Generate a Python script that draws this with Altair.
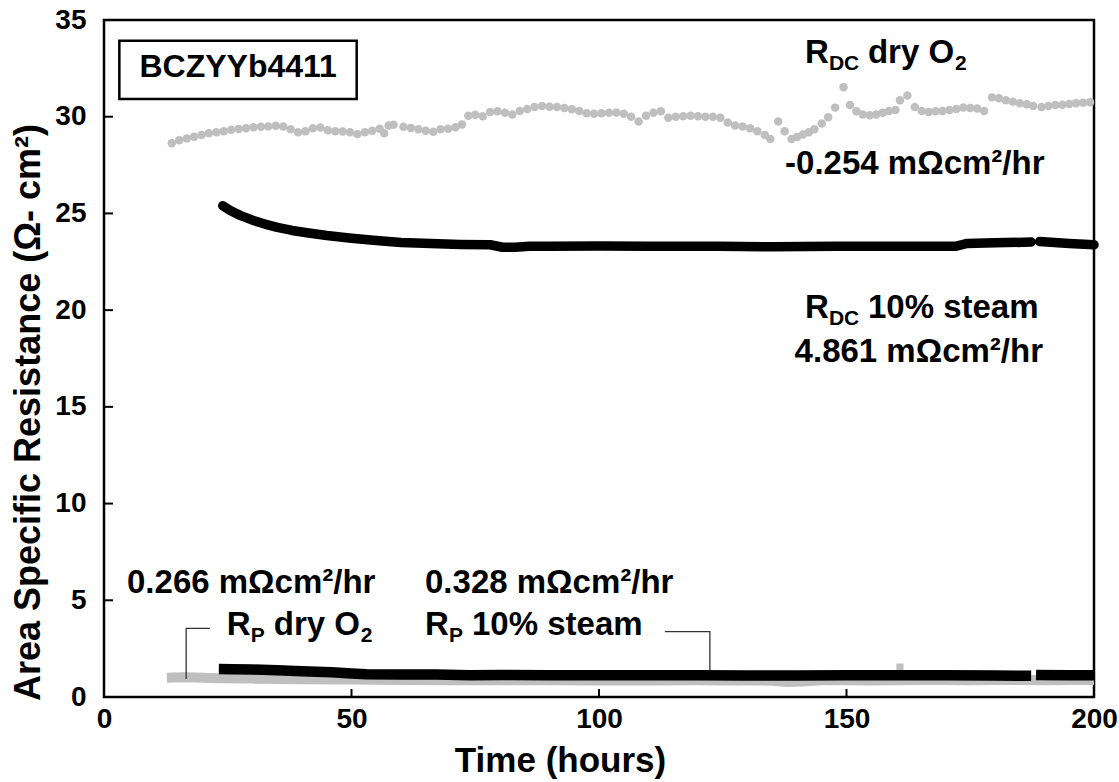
import altair as alt
import pandas as pd

FONT = "Liberation Sans"
GREY = "#bfbfbf"

# ---- R_DC in dry O2 (grey dots): time (h), ASR (ohm cm2)
dc_dry_t = [13.7, 15.2, 16.7, 18.2, 19.7, 21.2, 22.7, 24.2, 25.7, 27.2, 28.7, 30.2, 31.7, 33.2, 34.7,
            36.2, 37.7, 39.2, 40.7, 42.2, 43.7, 45.2, 46.7, 48.2, 49.7, 51.2, 52.7, 54.2, 55.7, 56.6,
            57.5, 58.5, 60.5, 62.0, 63.5, 65.0, 66.5, 68.0, 69.5, 71.0, 72.3, 73.6, 75.0, 76.5, 78.0,
            79.5, 81.0, 82.5, 84.0, 85.5, 87.0, 88.5, 90.0, 91.5, 93.0, 94.5, 96.0, 97.5, 99.0, 100.5,
            102.0, 103.5, 105.0, 106.5, 108.0, 109.5, 111.0, 112.5, 114.0, 115.5, 117.0, 118.5, 120.0,
            121.5, 123.0, 124.5, 126.0, 127.5, 129.0, 130.5, 132.0, 133.5, 134.6, 136.2, 137.5, 138.9,
            140.0, 141.2, 142.4, 143.5, 145.0, 146.3, 147.7, 149.4, 150.7, 152.0, 153.3, 154.7, 156.0,
            157.3, 158.6, 159.9, 160.8, 162.3, 163.8, 165.2, 166.6, 168.0, 169.4, 170.8, 172.2, 173.6,
            175.0, 176.4, 177.8, 179.4, 180.8, 182.2, 183.6, 185.0, 186.4, 187.7, 189.4, 190.8, 192.2,
            193.6, 195.0, 196.4, 197.8, 199.2]
dc_dry_v = [28.63, 28.78, 28.88, 28.97, 29.05, 29.15, 29.20, 29.25, 29.32, 29.36, 29.40, 29.45, 29.48,
            29.50, 29.53, 29.50, 29.35, 29.20, 29.25, 29.40, 29.44, 29.30, 29.25, 29.24, 29.20, 29.10,
            29.20, 29.28, 29.38, 29.15, 29.55, 29.58, 29.48, 29.42, 29.35, 29.28, 29.22, 29.35, 29.38,
            29.45, 29.60, 30.05, 30.10, 30.02, 30.25, 30.28, 30.20, 30.12, 30.30, 30.40, 30.50, 30.56,
            30.52, 30.50, 30.45, 30.38, 30.30, 30.18, 30.15, 30.18, 30.20, 30.22, 30.15, 30.00, 29.75,
            30.05, 30.20, 30.28, 29.95, 30.00, 30.02, 30.05, 30.02, 30.00, 30.00, 29.95, 29.70, 29.55,
            29.50, 29.40, 29.25, 29.05, 28.85, 29.75, 29.25, 28.85, 28.95, 29.08, 29.20, 29.35, 29.65,
            29.97, 30.47, 31.52, 30.60, 30.28, 30.12, 30.08, 30.12, 30.20, 30.30, 30.35, 30.85, 31.10,
            30.50, 30.30, 30.25, 30.28, 30.30, 30.35, 30.40, 30.48, 30.45, 30.42, 30.30, 31.00, 30.95,
            30.85, 30.78, 30.70, 30.65, 30.55, 30.50, 30.55, 30.60, 30.62, 30.66, 30.70, 30.72, 30.75]

# ---- R_DC in 10% steam (black)
dc_steam_t = [24.0, 25.5, 27.5, 30, 32.5, 35, 38, 41, 45, 50, 55, 60, 66, 72, 78, 80.5, 83, 86, 90, 100,
              110, 124, 135, 148, 160, 172, 174.4, 180, 187.3, 189, 195, 200]
dc_steam_v = [25.40, 25.15, 24.90, 24.65, 24.45, 24.28, 24.12, 24.00, 23.86, 23.72, 23.60, 23.50, 23.44,
              23.40, 23.38, 23.25, 23.25, 23.30, 23.30, 23.32, 23.30, 23.30, 23.28, 23.30, 23.30, 23.30,
              23.45, 23.48, 23.52, 23.55, 23.45, 23.38]
dc_steam_seg = ["a"] * 29 + ["b"] * 3

# ---- R_P in dry O2 (grey band)
p_dry_t = [12.7, 16, 20, 23, 30, 40, 50, 60, 70, 80, 90, 100, 110, 120, 125, 130, 135, 138, 141, 145,
           150, 155, 160, 165, 170, 175, 180, 185, 190, 195, 200]
p_dry_v = [1.00, 1.02, 1.00, 0.97, 0.95, 0.92, 0.90, 0.88, 0.87, 0.86, 0.86, 0.85, 0.85, 0.86, 0.85,
           0.86, 0.84, 0.78, 0.80, 0.86, 0.86, 0.85, 0.87, 0.88, 0.88, 0.87, 0.88, 0.88, 0.87, 0.88, 0.88]
p_dry_out_t = [160.8]
p_dry_out_v = [1.55]

# ---- R_P in 10% steam (black band)
p_steam_t = [23.2, 26, 30, 35, 40, 46, 50, 53, 60, 67, 74, 80, 90, 100, 110, 120, 130, 140, 150, 160,
             170, 180, 187.3, 188.3, 195, 200]
p_steam_v = [1.45, 1.44, 1.42, 1.38, 1.33, 1.28, 1.22, 1.18, 1.16, 1.16, 1.13, 1.14, 1.12, 1.12, 1.12,
             1.12, 1.11, 1.11, 1.12, 1.12, 1.12, 1.11, 1.10, 1.14, 1.13, 1.13]
p_steam_seg = ["a"] * 23 + ["b"] * 3

x_ticks = [0, 50, 100, 150, 200]
y_ticks = [0, 5, 10, 15, 20, 25, 30, 35]

W, H = 990, 677

xscale = alt.Scale(domain=[0, 200], nice=False, zero=False)
yscale = alt.Scale(domain=[0, 35], nice=False, zero=False)
xaxis = alt.Axis(values=x_ticks, title="Time (hours)", ticks=False, domain=False, grid=False,
                 labelFont=FONT, labelFontSize=28, labelFontWeight="bold", labelColor="black",
                 labelPadding=8, labelFlush=False,
                 titleFont=FONT, titleFontSize=35, titleFontWeight="bold", titleColor="black",
                 titleX=456, titleY=74, titleBaseline="alphabetic", titleAlign="center")
yaxis = alt.Axis(values=y_ticks, title="Area Specific Resistance (Ω- cm²)", ticks=False, domain=False,
                 grid=False, labelFont=FONT, labelFontSize=28, labelFontWeight="bold",
                 labelColor="black", labelPadding=18, labelFlush=False,
                 titleFont=FONT, titleFontSize=36, titleFontWeight="bold", titleColor="black",
                 titleX=-76, titleY=392, titleAngle=270, titleAlign="center", titleBaseline="middle")

X = alt.X("x:Q", scale=xscale, axis=xaxis)
Y = alt.Y("y:Q", scale=yscale, axis=yaxis)

dc_dry = alt.Chart(pd.DataFrame({"x": dc_dry_t, "y": dc_dry_v})).mark_circle(
    size=72, color=GREY, opacity=1).encode(x=X, y=Y)

dc_steam = alt.Chart(pd.DataFrame({"x": dc_steam_t, "y": dc_steam_v, "s": dc_steam_seg})).mark_line(
    color="black", strokeWidth=9.5, strokeCap="round", strokeJoin="round").encode(x=X, y=Y, detail="s:N")

p_dry = alt.Chart(pd.DataFrame({"x": p_dry_t, "y": p_dry_v})).mark_line(
    color=GREY, strokeWidth=10, strokeCap="butt").encode(x=X, y=Y)
p_dry_out = alt.Chart(pd.DataFrame({"x": p_dry_out_t, "y": p_dry_out_v})).mark_square(
    size=50, color=GREY, opacity=1).encode(x=X, y=Y)

p_steam = alt.Chart(pd.DataFrame({"x": p_steam_t, "y": p_steam_v, "s": p_steam_seg})).mark_line(
    color="black", strokeWidth=10.5, strokeCap="butt").encode(x=X, y=Y, detail="s:N")

xt = alt.Chart(pd.DataFrame({"x": x_ticks})).mark_rule(color="black", strokeWidth=2).encode(
    x=X, y=alt.value(H), y2=alt.value(H - 8))
yt = alt.Chart(pd.DataFrame({"y": y_ticks})).mark_rule(color="black", strokeWidth=2).encode(
    y=Y, x=alt.value(0), x2=alt.value(9))

# label box
box = alt.Chart(pd.DataFrame({"x": [3.1], "x2": [51.05], "y": [30.92], "y2": [33.93]})).mark_rect(
    fill="white", stroke="black", strokeWidth=2.5).encode(x=X, x2="x2:Q", y=Y, y2="y2:Q")


def txt(text, h, v, size=33, dx=0, dy=0, align="left"):
    df = pd.DataFrame({"x": [h], "y": [v], "t": [text]})
    return alt.Chart(df).mark_text(font=FONT, fontSize=size, fontWeight="bold", align=align,
                                   baseline="alphabetic", dx=dx, dy=dy, color="black").encode(
        x=X, y=Y, text="t:N")


def leader(pts):
    df = pd.DataFrame({"x": [p[0] for p in pts], "y": [p[1] for p in pts], "o": list(range(len(pts)))})
    return alt.Chart(df).mark_line(color="#333333", strokeWidth=1.3).encode(x=X, y=Y, order="o:Q")


texts = [
    txt("BCZYYb4411", 27.1, 32.07, size=32, align="center"),
    # R_DC dry O2
    txt("R", 141.6, 32.78), txt("DC", 141.6, 32.78, size=21, dx=24, dy=7),
    txt("dry O", 141.6, 32.78, dx=63), txt("2", 141.6, 32.78, size=21, dx=150, dy=7),
    txt("-0.254 mΩcm²/hr", 190.0, 27.04, align="right"),
    # R_DC steam
    txt("R", 141.6, 19.6), txt("DC", 141.6, 19.6, size=21, dx=24, dy=7),
    txt("10% steam", 141.6, 19.6, dx=63),
    txt("4.861 mΩcm²/hr", 189.7, 17.34, align="right"),
    # R_P
    txt("0.266 mΩcm²/hr", 4.65, 5.38),
    txt("0.328 mΩcm²/hr", 64.85, 5.38),
    txt("R", 24.8, 3.21), txt("P", 24.8, 3.21, size=21, dx=24, dy=7),
    txt("dry O", 24.8, 3.21, dx=47), txt("2", 24.8, 3.21, size=21, dx=134, dy=7),
    txt("R", 64.85, 3.21), txt("P", 64.85, 3.21, size=21, dx=24, dy=7),
    txt("10% steam", 64.85, 3.21, dx=47),
]

lead1 = leader([(21.4, 3.55), (16.6, 3.55), (16.6, 0.93)])
lead2 = leader([(113.3, 3.38), (122.4, 3.38), (122.4, 1.40)])

chart = alt.layer(
    p_dry, p_dry_out, p_steam, dc_steam, dc_dry, lead1, lead2, xt, yt, box, *texts
).properties(
    width=W, height=H,
    autosize=alt.AutoSizeParams(type="none"),
    padding={"left": 104, "top": 20, "right": 25, "bottom": 85},
    background="white",
).configure_view(stroke="black", strokeWidth=2.5)

chart.save("out.html", embed_options={"renderer": "svg", "actions": False})
